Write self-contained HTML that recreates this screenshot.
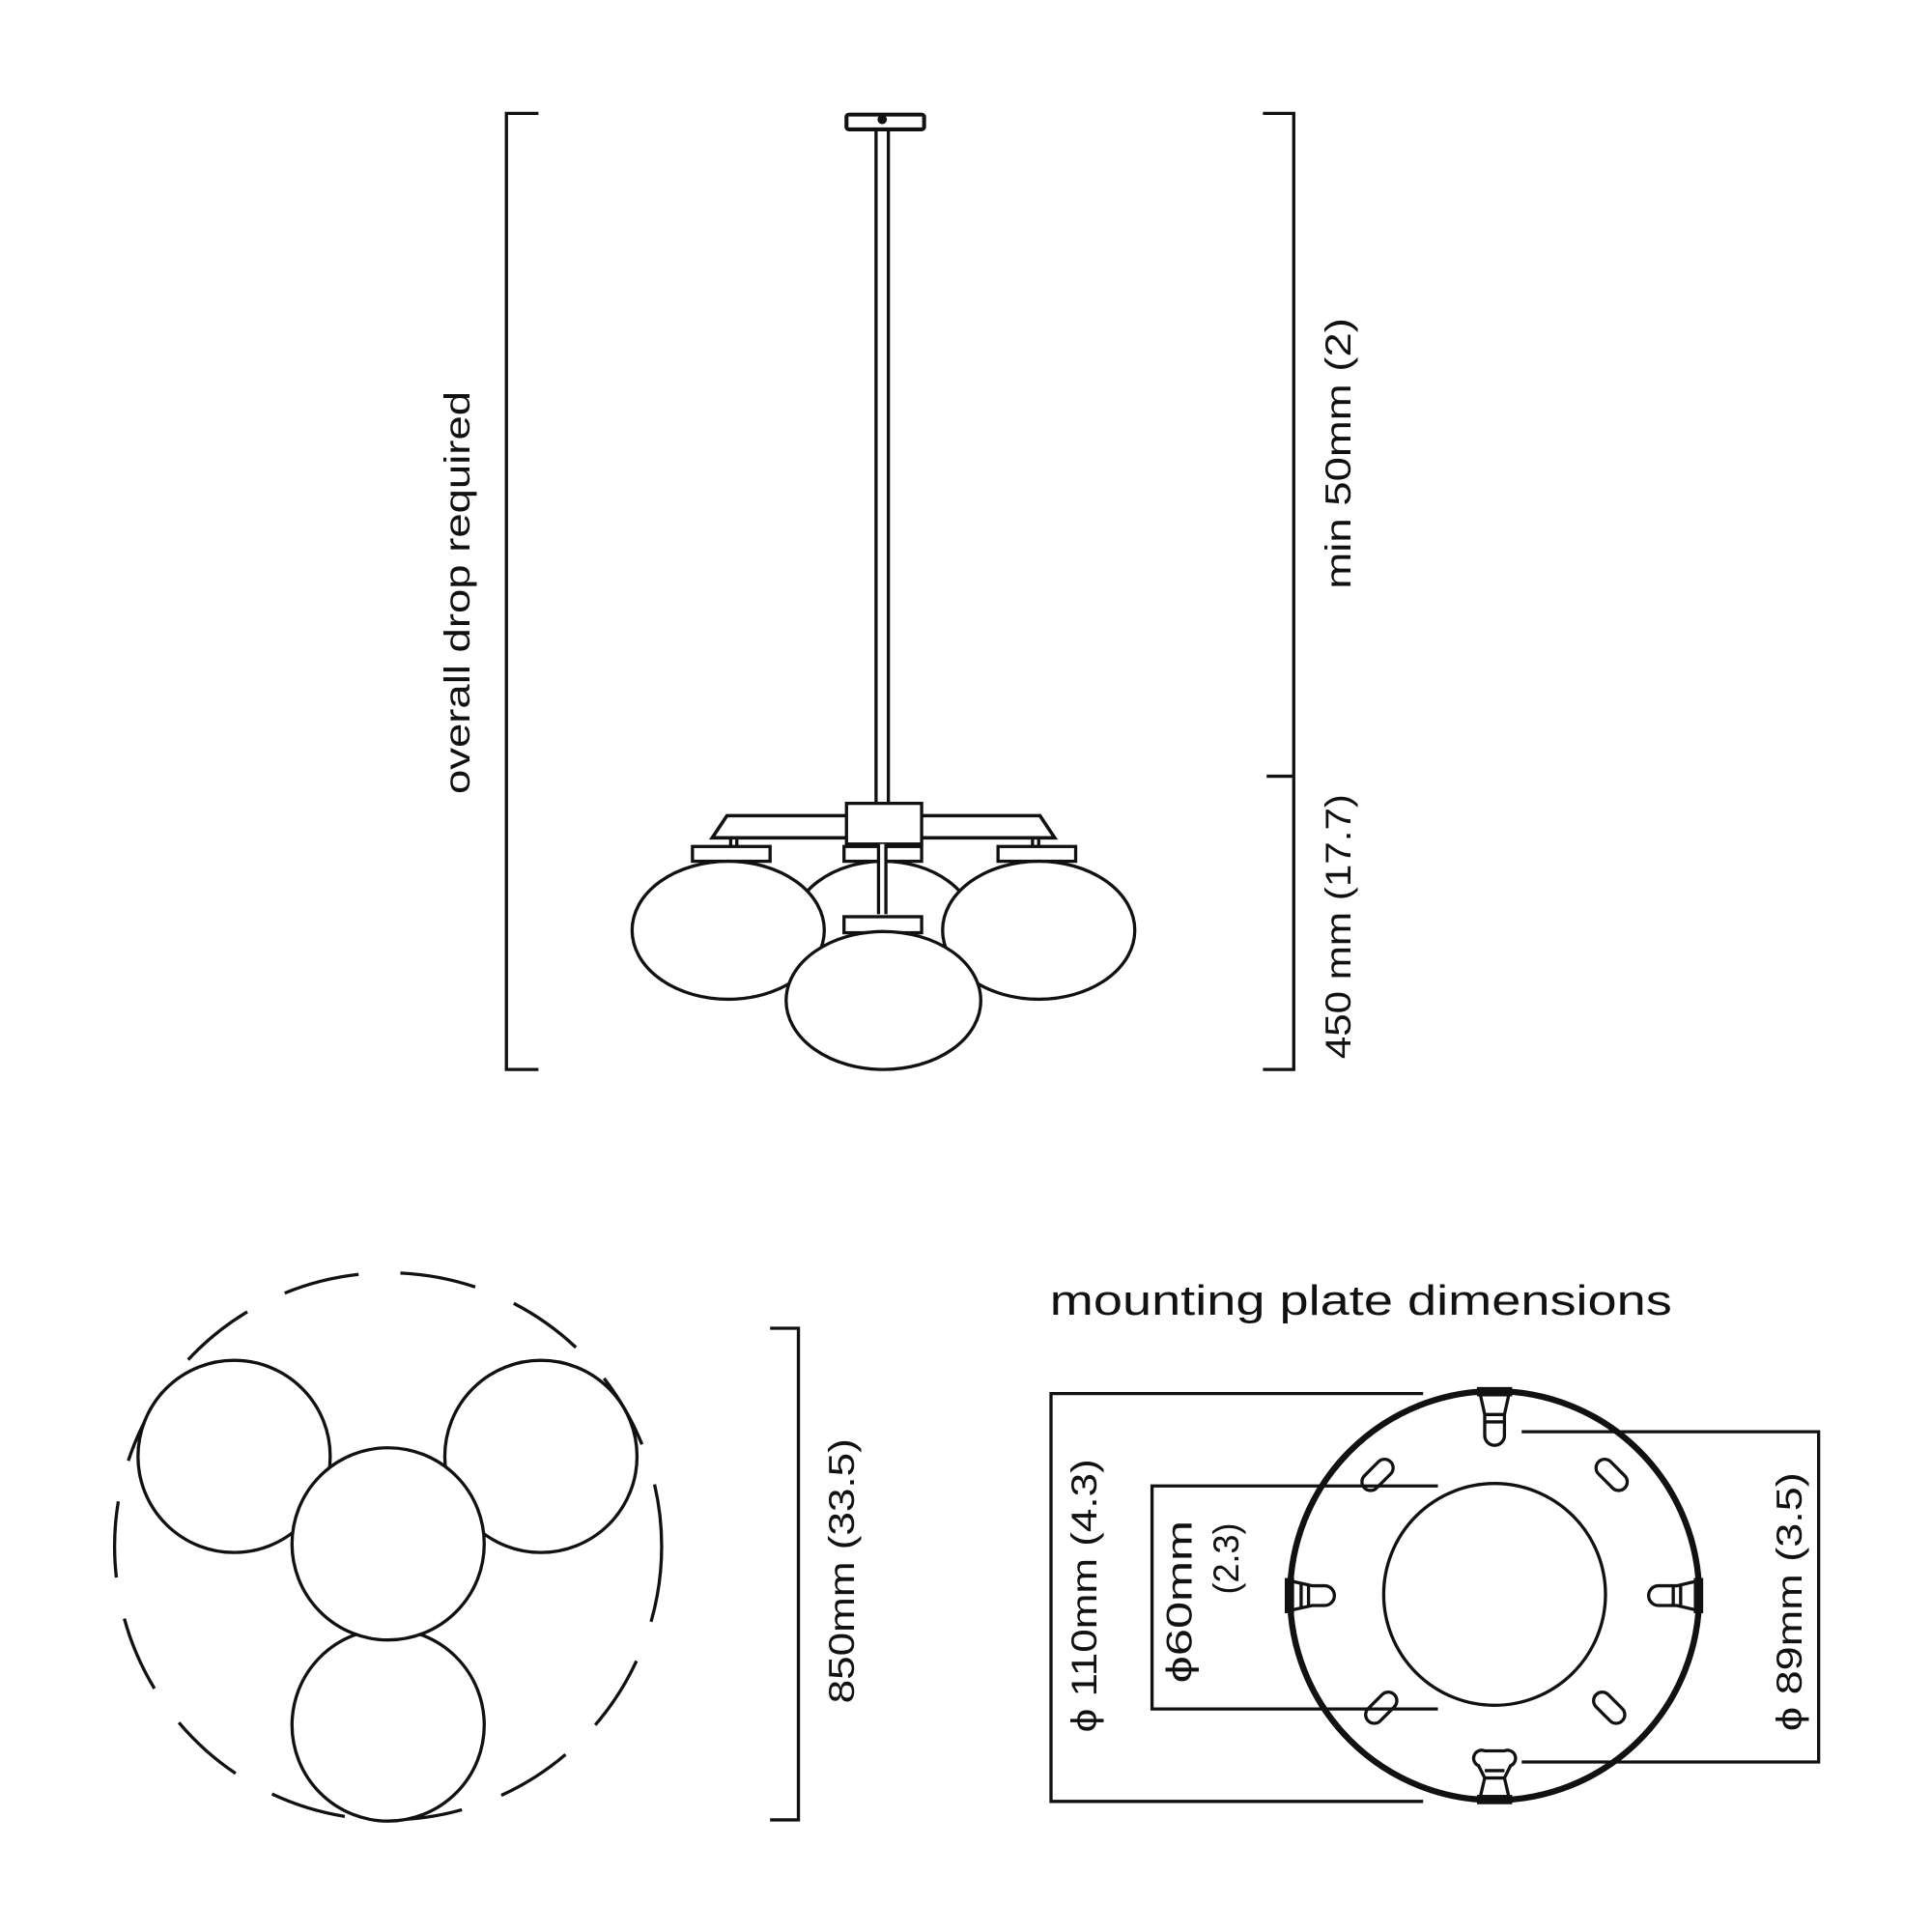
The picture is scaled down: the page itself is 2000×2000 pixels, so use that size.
<!DOCTYPE html>
<html><head><style>html,body{margin:0;padding:0;background:#fff}svg{display:block}</style></head>
<body>
<svg width="2000" height="2000" viewBox="0 0 1568 1568" xmlns="http://www.w3.org/2000/svg" font-family="Liberation Sans, sans-serif" fill="none" stroke="#111" stroke-width="2.6">
<!-- top left bracket -->
<path d="M437 92 H411 V868 H437"/>
<text transform="translate(381,481) rotate(-90)" text-anchor="middle" font-size="29" textLength="327" lengthAdjust="spacingAndGlyphs" fill="#111" stroke="none">overall drop required</text>
<!-- right bracket -->
<path d="M1025 92 H1050 V868 H1025 M1028 630 H1050"/>
<text transform="translate(1096,368) rotate(-90)" text-anchor="middle" font-size="29" textLength="220" lengthAdjust="spacingAndGlyphs" fill="#111" stroke="none">min 50mm (2)</text>
<text transform="translate(1096,752) rotate(-90)" text-anchor="middle" font-size="29" textLength="215" lengthAdjust="spacingAndGlyphs" fill="#111" stroke="none">450 mm (17.7)</text>
<!-- canopy + rod -->
<rect x="687" y="93" width="63" height="12" rx="2" stroke-width="3.2"/>
<circle cx="716" cy="97" r="2.5" fill="#111"/>
<path d="M711 105 V652 M721 105 V652"/>
<!-- back globe -->
<ellipse cx="717" cy="755" rx="75" ry="56" fill="#fff"/>
<rect x="685" y="687" width="63" height="12" fill="#fff"/>
<!-- arms -->
<path d="M590 662 H690 V680 H578 Z" fill="#fff" stroke-width="2.8"/>
<path d="M744 662 H844 L856 680 H744 Z" fill="#fff" stroke-width="2.8"/>
<rect x="687" y="652" width="61" height="33" fill="#fff"/>
<path d="M593 680 V687 M598 680 V687 M838 680 V687 M843 680 V687"/>
<!-- left globe -->
<rect x="562" y="687" width="63" height="12" fill="#fff"/>
<ellipse cx="591" cy="755" rx="78" ry="56" fill="#fff"/>
<!-- right globe -->
<rect x="810" y="687" width="63" height="12" fill="#fff"/>
<ellipse cx="843" cy="755" rx="78" ry="56" fill="#fff"/>
<!-- center rod -->
<rect x="713" y="685" width="6" height="57" fill="#fff" stroke="none"/>
<path d="M713 685 V742 M719 685 V742"/>
<!-- front globe -->
<rect x="685" y="744" width="63" height="13" fill="#fff"/>
<ellipse cx="717" cy="812" rx="79" ry="56" fill="#fff"/>

<!-- bottom-left plan -->
<circle cx="315" cy="1255" r="222" stroke-dasharray="62 34"/>
<circle cx="315" cy="1400" r="78" fill="#fff"/>
<circle cx="190" cy="1182" r="78" fill="#fff"/>
<circle cx="439" cy="1182" r="78" fill="#fff"/>
<circle cx="315" cy="1253" r="78" fill="#fff"/>
<path d="M625 1078 H648 V1477 H625"/>
<text transform="translate(693,1275) rotate(-90)" text-anchor="middle" font-size="29" textLength="215" lengthAdjust="spacingAndGlyphs" fill="#111" stroke="none">850mm (33.5)</text>

<!-- mounting plate -->
<text x="852" y="1067" font-size="34" textLength="505" lengthAdjust="spacingAndGlyphs" fill="#111" stroke="none">mounting plate dimensions</text>
<path d="M1155 1131 H853 V1462 H1155"/>
<path d="M1167 1206 H935 V1387 H1167"/>
<path d="M1235 1162 H1476 V1430 H1235"/>
<text transform="translate(890,1295) rotate(-90)" text-anchor="middle" font-size="29" textLength="222" lengthAdjust="spacingAndGlyphs" fill="#111" stroke="none">ϕ 110mm (4.3)</text>
<text transform="translate(967,1300) rotate(-90)" text-anchor="middle" font-size="29" textLength="132" lengthAdjust="spacingAndGlyphs" fill="#111" stroke="none">ϕ60mm</text>
<text transform="translate(1005,1265) rotate(-90)" text-anchor="middle" font-size="29" textLength="58" lengthAdjust="spacingAndGlyphs" fill="#111" stroke="none">(2.3)</text>
<text transform="translate(1462,1300) rotate(-90)" text-anchor="middle" font-size="29" textLength="210" lengthAdjust="spacingAndGlyphs" fill="#111" stroke="none">ϕ 89mm (3.5)</text>
<circle cx="1213" cy="1295" r="166" stroke-width="5"/>
<circle cx="1213" cy="1294" r="90"/>
<!-- clips -->
<g fill="#fff">
<path d="M1201 1130 H1225 L1221 1148 V1165 A8 8 0 0 1 1205 1165 V1148 Z"/>
<path d="M1205 1148 H1221 M1205 1154 H1221"/>
<path d="M1201 1460 H1225 L1221 1443 L1226 1433 A6 6 0 0 0 1221 1421 H1205 A6 6 0 0 0 1200 1433 L1205 1443 Z"/>
<path d="M1205 1443 H1221 M1205 1437 H1221"/>
<path d="M1047 1283 V1307 L1065 1303 H1075 A8 8 0 0 0 1075 1287 H1065 Z"/>
<path d="M1062 1287 V1303 M1056 1285 V1305"/>
<path d="M1378 1283 V1307 L1361 1303 H1346 A8 8 0 0 1 1346 1287 H1361 Z"/>
<path d="M1364 1287 V1303 M1358 1287 V1303"/>
</g>
<rect x="1200" y="1127" width="26" height="5" fill="#111"/>
<rect x="1200" y="1458" width="26" height="5" fill="#111"/>
<rect x="1044" y="1282" width="5" height="26" fill="#111"/>
<rect x="1376" y="1282" width="5" height="26" fill="#111"/>
<!-- slots -->
<rect x="1103" y="1190" width="30" height="14" rx="7" transform="rotate(-45 1118 1197)"/>
<rect x="1293" y="1190" width="30" height="14" rx="7" transform="rotate(45 1308 1197)"/>
<rect x="1106" y="1379" width="30" height="14" rx="7" transform="rotate(-45 1121 1386)"/>
<rect x="1291" y="1379" width="30" height="14" rx="7" transform="rotate(45 1306 1386)"/>
</svg>
</body></html>
